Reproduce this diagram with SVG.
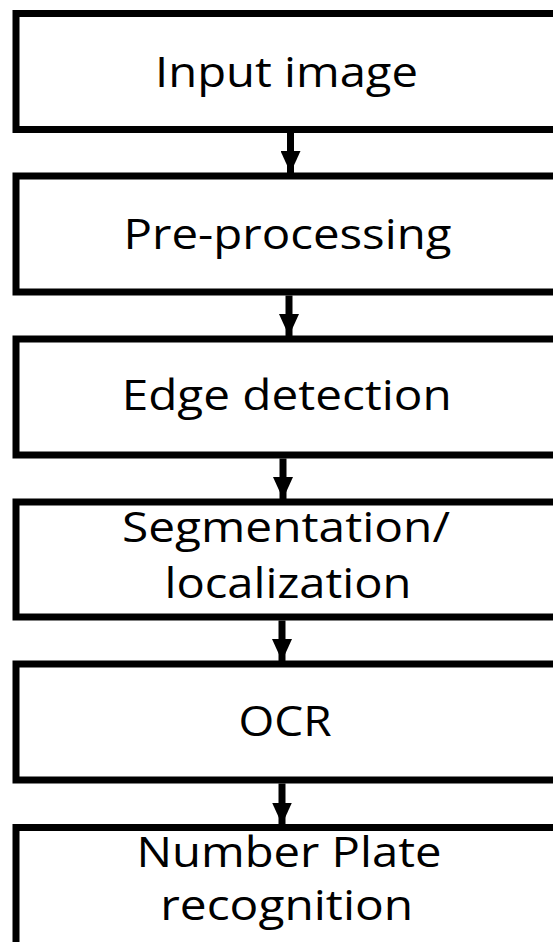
<svg xmlns="http://www.w3.org/2000/svg" width="553" height="942" viewBox="0 0 553 942">
<defs>
<style>
.box{fill:#fff;stroke:#000;stroke-width:7}
.lbl{font-family:"Open Sans","Noto Sans",sans-serif;font-size:42px;fill:#000;text-anchor:middle}
.edge{stroke:#000;stroke-width:7;fill:none}
</style>
<marker id="ah" markerUnits="userSpaceOnUse" markerWidth="22" markerHeight="20" refX="22" refY="10" orient="auto">
<path d="M0,0 L22,10 L0,20 Z" fill="#000"/>
</marker>
</defs>
<rect width="553" height="942" fill="#fff"/>
<g id="connectors">
<line class="edge" x1="290.5" y1="133" x2="290.5" y2="173" marker-end="url(#ah)"/>
<line class="edge" x1="289" y1="295.5" x2="289" y2="336" marker-end="url(#ah)"/>
<line class="edge" x1="283" y1="458.5" x2="283" y2="499" marker-end="url(#ah)"/>
<line class="edge" x1="282" y1="620.5" x2="282" y2="661" marker-end="url(#ah)"/>
<line class="edge" x1="282" y1="783.5" x2="282" y2="824.5" marker-end="url(#ah)"/>
</g>
<g id="n1"><rect class="box" x="16" y="13.5" width="560" height="116"/><text class="lbl" x="286.5" y="86.7" textLength="263" lengthAdjust="spacingAndGlyphs">Input image</text></g>
<g id="n2"><rect class="box" x="16" y="176" width="560" height="116"/><text class="lbl" x="287.5" y="249.3" textLength="328" lengthAdjust="spacingAndGlyphs">Pre-processing</text></g>
<g id="n3"><rect class="box" x="16" y="339" width="560" height="116"/><text class="lbl" x="286.7" y="410" textLength="330" lengthAdjust="spacingAndGlyphs">Edge detection</text></g>
<g id="n4"><rect class="box" x="16" y="502" width="560" height="115"/><text class="lbl" x="286" y="542.3" textLength="328" lengthAdjust="spacingAndGlyphs">Segmentation/</text><text class="lbl" x="288" y="598.3" textLength="247" lengthAdjust="spacingAndGlyphs">localization</text></g>
<g id="n5"><rect class="box" x="16" y="664" width="560" height="116"/><text class="lbl" x="285" y="736" textLength="93" lengthAdjust="spacingAndGlyphs">OCR</text></g>
<g id="n6"><rect class="box" x="16" y="827.5" width="560" height="120"/><text class="lbl" x="289" y="867.3" textLength="305" lengthAdjust="spacingAndGlyphs">Number Plate</text><text class="lbl" x="286.7" y="920" textLength="253" lengthAdjust="spacingAndGlyphs">recognition</text></g>
</svg>
